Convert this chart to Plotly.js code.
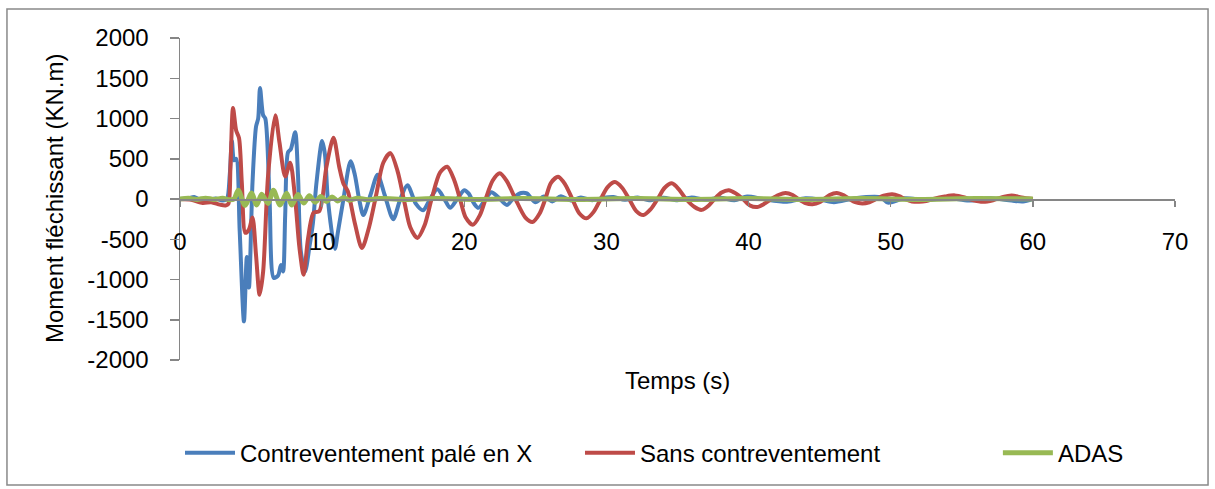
<!DOCTYPE html>
<html>
<head>
<meta charset="utf-8">
<script src="https://cdn.plot.ly/plotly-3.0.1.min.js"></script>
<style>html,body{margin:0;padding:0;background:#fff;}#chart{width:1215px;height:489px;}</style>
</head>
<body>
<div id="chart"></div>
<script>
// Series names
const seriesNames = ["Contreventement palé en X", "Sans contreventement", "ADAS"];

// Contreventement palé en X (blue)
const tBlue = [0,0.5,1.0,1.3,2.0,2.5,3.0,3.3,3.5,3.65,3.8,3.95,4.2,4.5,4.7,4.85,5.1,5.35,5.5,5.63,5.85,6.0,6.3,6.6,6.9,7.1,7.25,7.4,7.6,7.8,8.1,8.3,8.5,8.8,9.1,9.35,9.6,10.0,10.2,10.4,10.9,11.1,11.5,12.0,12.3,12.6,12.9,13.4,13.9,14.4,15.0,15.5,16.0,16.6,17.1,17.6,18.1,18.6,19.0,19.5,20.0,20.3,20.7,21.0,21.5,21.9,22.4,23.0,23.5,24.0,24.4,25.0,25.6,26.2,26.8,27.5,28.2,29.0,29.8,30.5,31.3,32.2,33.0,34.0,35.0,36.0,37.0,38.0,39.0,39.9,41.0,42.7,44.0,45.0,46.0,47.5,49.3,49.8,51.0,52.5,54.0,55.5,57.0,58.5,59.3,60.0];
const vBlue = [0,5,25,0,-10,5,-20,0,300,720,480,500,-400,-1520,-720,-1100,200,900,1000,1380,1040,1000,0,-980,-950,-820,-900,-200,580,620,830,300,-650,-900,-600,-300,200,720,550,0,-620,-420,0,470,300,0,-200,50,300,50,-250,0,170,-60,-140,0,120,0,-110,0,110,70,-60,-110,0,85,20,-75,20,75,70,-40,30,-30,35,-20,20,-15,15,25,-10,20,-15,15,-15,20,-10,15,-15,30,0,-35,10,-5,-40,10,20,-45,10,-15,15,-20,10,-20,-30,0];

// Sans contreventement (red)
const tRed = [0,0.8,1.6,2.2,2.8,3.2,3.4,3.55,3.73,3.95,4.15,4.35,4.6,4.85,5.1,5.35,5.6,5.85,6.2,6.7,7.0,7.4,7.75,8.1,8.4,8.7,9.0,9.4,9.8,10.3,10.8,11.2,11.5,11.8,12.3,12.8,13.3,13.8,14.3,14.8,15.3,15.8,16.2,16.7,17.2,17.7,18.3,18.8,19.3,19.7,20.1,20.6,21.1,21.5,22.0,22.5,23.0,23.6,24.3,24.8,25.3,25.7,26.1,26.6,27.1,27.6,28.1,28.6,29.1,29.6,30.1,30.6,31.1,31.6,32.1,32.6,33.1,33.6,34.1,34.6,35.1,35.6,36.2,36.7,37.2,37.6,38.1,38.6,39.1,39.6,40.1,40.6,41.1,41.6,42.1,42.6,43.1,43.5,44.0,44.5,45.0,45.3,45.7,46.2,46.7,47.1,47.5,48.0,48.5,49.0,49.5,50.1,50.6,51.0,51.5,52.0,52.5,53.0,53.8,54.5,55.2,55.7,56.5,57.2,57.8,58.5,59.2,60.0];
const vRed = [0,-10,-50,-40,-70,-80,-60,400,1130,850,760,200,-420,-380,-230,-700,-1190,-900,300,1040,700,280,450,0,-600,-940,-500,-170,-150,400,760,400,190,100,-300,-610,-350,50,450,570,350,-50,-350,-485,-330,0,330,400,230,0,-230,-320,-200,0,230,320,220,0,-230,-285,-180,0,200,275,180,0,-180,-240,-160,0,150,210,140,0,-150,-200,-130,0,140,195,120,0,-100,-135,-80,0,80,110,70,0,-80,-100,-60,0,50,75,50,0,-50,-65,-40,0,50,75,45,0,-40,-55,-40,0,40,60,35,0,-30,-35,-25,0,30,45,20,-10,-35,-15,20,45,20,0];

// ADAS (green)
const tGreen = [0,0.6,1.2,1.8,2.4,3.0,3.5,3.8,4.1,4.57,5.04,5.39,5.75,6.2,6.57,7.04,7.5,7.86,8.3,8.7,9.1,9.5,9.9,10.3,10.7,11.1,11.5,11.9,12.5,13.2,14,16,18,21,24,28,32,36,40,44,48,52,56,60];
const vGreen = [0,8,-5,10,-5,8,-10,0,110,-80,75,-75,60,-55,110,-75,70,-75,55,-50,40,-40,30,-30,25,-25,20,-15,10,-10,5,-5,5,-5,5,-5,5,-5,5,-5,5,-5,5,0];

// Axis ticks
const xTicks = [0,10,20,30,40,50,60,70];
const yTicks = [-2000,-1500,-1000,-500,0,500,1000,1500,2000];

const colors = ["#4A7EBB", "#BE4B48", "#98B954"];
const widths = [4, 4, 5];
const FONT = "Liberation Sans, Arial, sans-serif";
const legendIds = ["legend", "legend2", "legend3"];

const traces = [
  {x: tBlue, y: vBlue, name: seriesNames[0]},
  {x: tRed, y: vRed, name: seriesNames[1]},
  {x: tGreen, y: vGreen, name: seriesNames[2]}
].map((d, i) => Object.assign(d, {
  type: "scatter", mode: "lines", legend: legendIds[i],
  line: {color: colors[i], width: widths[i], shape: "spline", smoothing: 0.8}
}));

function legendAt(xp) {
  return {
    orientation: "h", x: xp, xanchor: "left", y: -0.289, yanchor: "middle",
    itemwidth: 50, font: {family: FONT, size: 24, color: "#000"},
    bgcolor: "rgba(0,0,0,0)"
  };
}

const layout = {
  width: 1215, height: 489,
  margin: {l: 180, r: 40, t: 38, b: 129, autoexpand: false},
  paper_bgcolor: "#fff", plot_bgcolor: "#fff",
  font: {family: FONT, size: 24, color: "#000"},
  showlegend: true,
  legend: legendAt(0),
  legend2: legendAt(0.402),
  legend3: legendAt(0.822),
  xaxis: {
    range: [0, 70], tickvals: xTicks, ticktext: xTicks.map(String),
    anchor: "free", position: 0.5,
    showline: true, linecolor: "#868686", linewidth: 1.5,
    ticks: "outside", ticklen: 6, tickcolor: "#868686", tickwidth: 1.5,
    ticklabelstandoff: 15,
    showgrid: false, zeroline: false,
    tickfont: {family: FONT, size: 24, color: "#000"}
  },
  yaxis: {
    range: [-2000, 2000], tickvals: yTicks, ticktext: yTicks.map(String),
    showline: true, linecolor: "#868686", linewidth: 1.5,
    ticks: "outside", ticklen: 9, tickcolor: "#868686", tickwidth: 1.5,
    ticklabelstandoff: 16,
    showgrid: false, zeroline: false,
    tickfont: {family: FONT, size: 24, color: "#000"}
  },
  annotations: [
    {text: "Temps (s)", xref: "paper", yref: "paper", x: 0.5, y: -0.0652,
     xanchor: "center", yanchor: "middle", showarrow: false,
     font: {family: FONT, size: 24, color: "#000"}},
    {text: "Moment fléchissant (KN.m)", xref: "paper", yref: "paper",
     x: -0.1266, y: 0.5, xanchor: "center", yanchor: "middle", textangle: -90,
     showarrow: false, font: {family: FONT, size: 24, color: "#000"}}
  ],
  shapes: [
    {type: "rect", xref: "paper", yref: "paper", x0: -0.1739, x1: 1.0332, y0: -0.388, y1: 1.0901,
     line: {color: "#898989", width: 1.5}, fillcolor: "rgba(0,0,0,0)", layer: "below"}
  ]
};

Plotly.newPlot("chart", traces, layout, {displayModeBar: false, staticPlot: true});
</script>
</body>
</html>
